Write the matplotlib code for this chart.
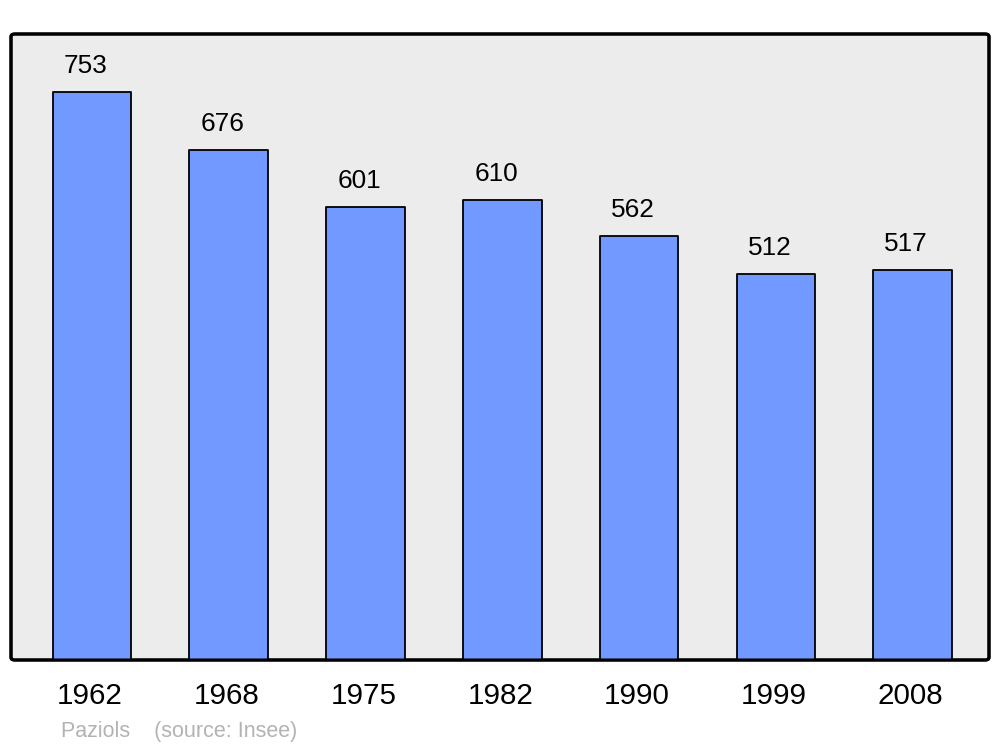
import matplotlib
matplotlib.use("Agg")
import matplotlib.pyplot as plt
from matplotlib.patches import FancyBboxPatch
from matplotlib.transforms import ScaledTranslation

years = ["1962", "1968", "1975", "1982", "1990", "1999", "2008"]
population = [753, 676, 601, 610, 562, 512, 517]

plt.rcParams['font.family'] = ['Liberation Sans', 'DejaVu Sans']

fig = plt.figure(figsize=(10, 7.47), dpi=100)
ax = fig.add_axes([0.011, 1 - 660/747, 0.978, (660 - 34)/747])
ax.set_facecolor('none')

x = list(range(len(years)))
bars = ax.bar(x, population, width=0.574, color='#7299ff', edgecolor='black',
              linewidth=1.3, zorder=3)
for b in bars:
    b.set_joinstyle('round')

for xi, v in zip(x, population):
    ax.annotate(str(v), (xi, v), xytext=(-4.5, 18.8), textcoords='offset points',
                ha='center', va='center', fontsize=18.8, color='black')

ax.set_xlim(-0.592, 6.559)
ax.set_ylim(0, 830)
ax.set_xticks(x)
ax.set_xticklabels(years, fontsize=21.3)
ax.tick_params(axis='x', length=0, pad=16)
offset = ScaledTranslation(-2/100, 0, fig.dpi_scale_trans)
for lbl in ax.get_xticklabels():
    lbl.set_transform(lbl.get_transform() + offset)
ax.set_yticks([])
for s in ax.spines.values():
    s.set_visible(False)

frame = FancyBboxPatch((0, 0), 1, 1, boxstyle='round,pad=0,rounding_size=0.004',
                       transform=ax.transAxes, facecolor='#ececec', edgecolor='black',
                       linewidth=2.2, zorder=0, clip_on=False)
ax.add_patch(frame)
frame2 = FancyBboxPatch((0, 0), 1, 1, boxstyle='round,pad=0,rounding_size=0.004',
                        transform=ax.transAxes, facecolor='none', edgecolor='black',
                        linewidth=2.2, zorder=5, clip_on=False)
ax.add_patch(frame2)

fig.text(0.061, 1 - 731.5/747, "Paziols    (source: Insee)", fontsize=15.5,
         color='#b3b3b3', ha='left', va='center')

fig.savefig("out.png", dpi=100)
